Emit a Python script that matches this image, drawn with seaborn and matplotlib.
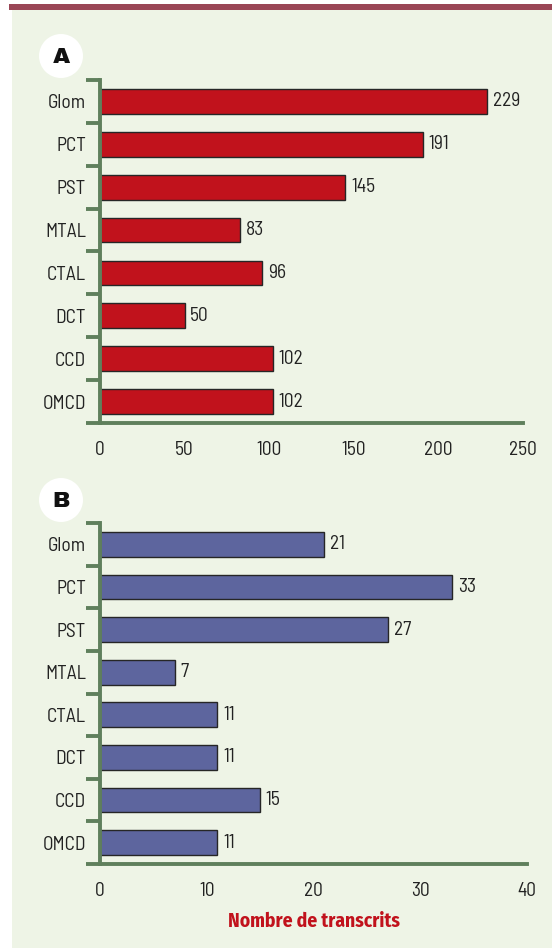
import matplotlib
matplotlib.use('Agg')
import matplotlib.pyplot as plt
from matplotlib.patches import Rectangle, Ellipse
from matplotlib.ticker import FixedLocator
import seaborn as sns

categories = ["Glom", "PCT", "PST", "MTAL", "CTAL", "DCT", "CCD", "OMCD"]
values_a = [229, 191, 145, 83, 96, 50, 102, 102]
values_b = [21, 33, 27, 7, 11, 11, 15, 11]
ticks_a = [0, 50, 100, 150, 200, 250]
ticks_b = [0, 10, 20, 30, 40]

RED = "#c1121c"
BLUE = "#5d659e"
AXIS = "#5f7f5c"
BG = "#eef4e6"
TXT = "#222222"
W, H = 552, 948
FS = 14

sns.set_style("white")
plt.rcParams['font.family'] = ['Barlow Semi Condensed', 'DejaVu Sans']

fig = plt.figure(figsize=(W / 100, H / 100), dpi=100)
fig.patch.set_facecolor("white")
# background panel + top strip
fig.add_artist(Rectangle((12 / W, 0), 1, 1 - 10 / H, transform=fig.transFigure,
                         facecolor=BG, edgecolor="none", zorder=-10))
fig.add_artist(Rectangle((9 / W, 1 - 9.5 / H), 1, 5.5 / H, transform=fig.transFigure,
                         facecolor="#9a4656", edgecolor="none", zorder=-9))


def panel(rect, vals, color, ticks, letter, cy):
    ax = fig.add_axes(rect)
    ax.set_facecolor("none")
    sns.barplot(x=vals, y=categories, color=color, edgecolor="#262626",
                linewidth=1.0, width=0.58, saturation=1, orient="h", ax=ax)
    ax.set_xlim(ticks[0], ticks[-1])
    ax.set_ylim(len(categories) - 0.5, -0.5)
    ax.set_xticks(ticks)
    ax.set_xticklabels([str(t) for t in ticks])
    ax.yaxis.set_minor_locator(FixedLocator([i - 0.5 for i in range(len(categories) + 1)]))
    for side in ["top", "right"]:
        ax.spines[side].set_visible(False)
    for side in ["left", "bottom"]:
        ax.spines[side].set_color(AXIS)
        ax.spines[side].set_linewidth(2.8)
        ax.spines[side].set_capstyle("projecting")
    ax.tick_params(axis="x", direction="out", length=8, width=2.8, color=AXIS,
                   labelsize=FS, labelcolor=TXT, pad=5)
    ax.tick_params(axis="y", which="major", length=0, labelsize=FS, labelcolor=TXT, pad=10)
    ax.tick_params(axis="y", which="minor", direction="out", length=10, width=2.8,
                   color=AXIS, left=True)
    for c in ax.containers:
        ax.bar_label(c, labels=[str(v) for v in vals], padding=4, fontsize=FS, color=TXT)
    ax.set_xlabel("")
    ax.set_ylabel("")
    fig.add_artist(Ellipse((61 / W, 1 - cy / H), 44 / W, 44 / H, transform=fig.transFigure,
                           facecolor="white", edgecolor="none"))
    fig.text(61 / W, 1 - (cy + 1) / H, letter, ha="center", va="center", fontsize=16,
             color="#111111", family=["Archivo Black", "DejaVu Sans"])
    return ax


ax_a = panel([100 / W, 1 - 423 / H, 423 / W, 343 / H], values_a, RED, ticks_a, "A", 56)
ax_b = panel([100 / W, 1 - 864 / H, 427 / W, 341 / H], values_b, BLUE, ticks_b, "B", 500)
ax_b.set_xlabel("Nombre de transcrits", fontsize=14, fontweight="bold", color="#c1121c",
                labelpad=8, family=["Fira Sans Condensed", "DejaVu Sans"])

fig.savefig("out.png", dpi=100)
